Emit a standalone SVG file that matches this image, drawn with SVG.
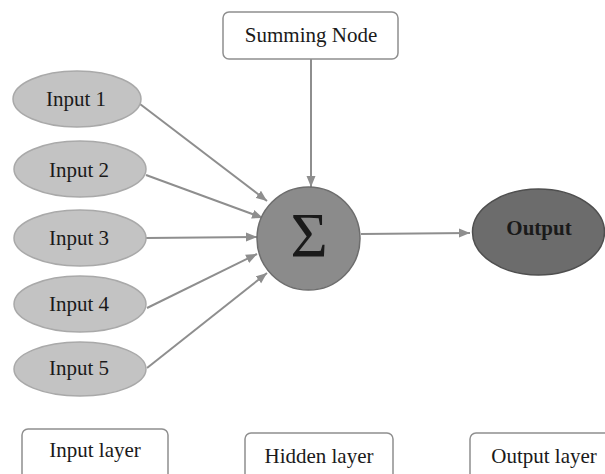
<svg xmlns="http://www.w3.org/2000/svg" width="605" height="474" viewBox="0 0 605 474">
  <defs>
    <marker id="arrow" markerUnits="userSpaceOnUse" markerWidth="12" markerHeight="10" refX="11" refY="5" orient="auto">
      <path d="M0,0.5 L11,5 L0,9.5 Z" fill="#8e8e8e"/>
    </marker>
    <style>
      text { font-family: "Liberation Serif", "Times New Roman", serif; fill: #1a1a1a; text-anchor: middle; }
      .lbl { font-size: 21px; }
      .input ellipse { fill: #c3c3c3; stroke: #a9a9a9; stroke-width: 1.5; }
      .box rect { fill: #ffffff; stroke: #8f8f8f; stroke-width: 1.5; }
      .edge { stroke: #8e8e8e; stroke-width: 2; fill: none; marker-end: url(#arrow); }
    </style>
  </defs>
  <rect width="605" height="474" fill="#ffffff"/>

  <!-- connectors -->
  <g id="connectors">
    <line class="edge" x1="311" y1="59" x2="311" y2="187"/>
    <line class="edge" x1="140" y1="104" x2="267" y2="201"/>
    <line class="edge" x1="146" y1="175" x2="263" y2="218"/>
    <line class="edge" x1="146" y1="238" x2="257" y2="237"/>
    <line class="edge" x1="147" y1="308" x2="257" y2="254"/>
    <line class="edge" x1="147" y1="368" x2="267" y2="273"/>
    <line class="edge" x1="361" y1="234" x2="470" y2="233"/>
  </g>

  <!-- summing node label -->
  <g id="summing-node" class="box">
    <rect x="223" y="12" width="175" height="47" rx="6"/>
    <text class="lbl" x="311" y="42">Summing Node</text>
  </g>

  <!-- inputs -->
  <g id="input-1" class="input">
    <ellipse cx="77" cy="99" rx="64" ry="28"/>
    <text class="lbl" x="76" y="106">Input 1</text>
  </g>
  <g id="input-2" class="input">
    <ellipse cx="80" cy="169" rx="66" ry="28"/>
    <text class="lbl" x="79" y="177">Input 2</text>
  </g>
  <g id="input-3" class="input">
    <ellipse cx="80" cy="238" rx="66" ry="28"/>
    <text class="lbl" x="79" y="245">Input 3</text>
  </g>
  <g id="input-4" class="input">
    <ellipse cx="80" cy="304" rx="66" ry="28"/>
    <text class="lbl" x="79" y="311">Input 4</text>
  </g>
  <g id="input-5" class="input">
    <ellipse cx="80" cy="369" rx="66" ry="27"/>
    <text class="lbl" x="79" y="375">Input 5</text>
  </g>

  <!-- summation -->
  <g id="sum">
    <circle cx="308.5" cy="238.5" r="51.5" fill="#8b8b8b" stroke="#6d6d6d" stroke-width="1.5"/>
    <text x="309" y="257" style="font-size:64px">Σ</text>
  </g>

  <!-- output -->
  <g id="output">
    <ellipse cx="538.5" cy="232" rx="66" ry="43" fill="#6c6c6c" stroke="#4f4f4f" stroke-width="1.5"/>
    <text class="lbl" x="539" y="235" style="font-weight:bold">Output</text>
  </g>

  <!-- layer captions -->
  <g id="input-layer" class="box">
    <rect x="22" y="429" width="146" height="52" rx="6"/>
    <text class="lbl" x="95" y="457">Input layer</text>
  </g>
  <g id="hidden-layer" class="box">
    <rect x="245" y="433" width="148" height="52" rx="6"/>
    <text class="lbl" x="319" y="463">Hidden layer</text>
  </g>
  <g id="output-layer" class="box">
    <rect x="470" y="433" width="150" height="52" rx="6"/>
    <text class="lbl" x="544" y="463">Output layer</text>
  </g>
</svg>
